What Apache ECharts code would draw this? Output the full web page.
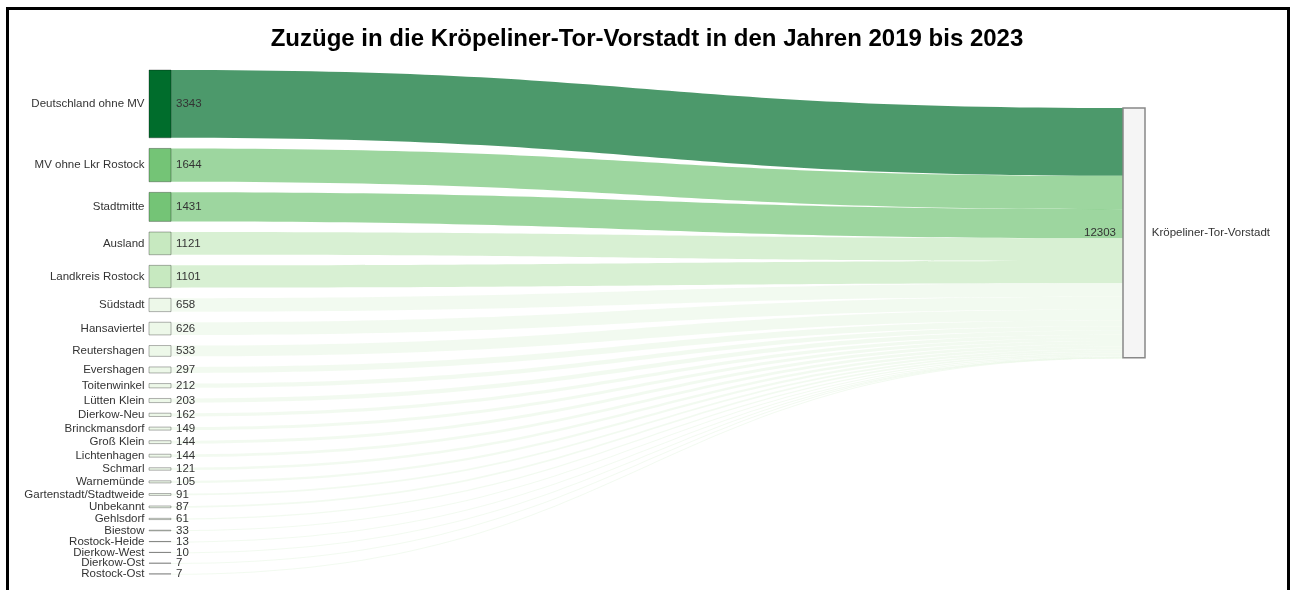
<!DOCTYPE html>
<html>
<head>
<meta charset="utf-8">
<script src="https://cdn.jsdelivr.net/npm/echarts@6/dist/echarts.min.js"></script>
<style>
  html, body { margin: 0; padding: 0; background: #fff; }
  #frame { position: absolute; left: 6px; top: 7px; width: 1284px; height: 600px; border: 3px solid #000; box-sizing: border-box; }
  #chart { position: absolute; left: 0; top: 0; width: 1294px; height: 590px; }
</style>
</head>
<body>
<div id="frame"></div>
<div id="chart"></div>
<script>
const titleText = 'Zuzüge in die Kröpeliner-Tor-Vorstadt in den Jahren 2019 bis 2023';
const targetName = 'Kröpeliner-Tor-Vorstadt';
const sourceNames = [
  'Deutschland ohne MV', 'MV ohne Lkr Rostock', 'Stadtmitte', 'Ausland', 'Landkreis Rostock',
  'Südstadt', 'Hansaviertel', 'Reutershagen', 'Evershagen', 'Toitenwinkel', 'Lütten Klein',
  'Dierkow-Neu', 'Brinckmansdorf', 'Groß Klein', 'Lichtenhagen', 'Schmarl', 'Warnemünde',
  'Gartenstadt/Stadtweide', 'Unbekannt', 'Gehlsdorf', 'Biestow', 'Rostock-Heide',
  'Dierkow-West', 'Dierkow-Ost', 'Rostock-Ost'
];
const sourceValues = [
  3343, 1644, 1431, 1121, 1101,
  658, 626, 533, 297, 212, 203,
  162, 149, 144, 144, 121, 105,
  91, 87, 61, 33, 13,
  10, 7, 7
];

const FONT = 'Arial, "Liberation Sans", sans-serif';

function colorFor(v) {
  if (v >= 3000) return '#006d2c';
  if (v >= 1400) return '#74c476';
  if (v >= 1000) return '#c7e9c0';
  return '#edf8e9';
}

const total = sourceValues.reduce((a, b) => a + b, 0);
const links = sourceNames.map((n, i) => ({ source: n, target: targetName, value: sourceValues[i] }));

// Series 1: visible nodes & links, name labels
const nodesMain = sourceNames.map((n, i) => ({
  name: n,
  value: sourceValues[i],
  itemStyle: { color: colorFor(sourceValues[i]), borderColor: 'rgba(0,0,0,0.3)', borderWidth: 1 },
  label: { position: 'left', distance: 4, formatter: '{b}' }
}));
nodesMain.push({
  name: targetName,
  value: total,
  localY: 0.0755,
  itemStyle: { color: '#f5f5f5', borderColor: '#888', borderWidth: 1.5 },
  label: { position: 'right', distance: 6, formatter: '{b}' }
});

// Series 2: same layout, invisible marks, value labels
const nodesVal = sourceNames.map((n, i) => ({
  name: n,
  value: sourceValues[i],
  label: { position: 'right', distance: 5, formatter: String(sourceValues[i]) }
}));
nodesVal.push({
  name: targetName,
  value: total,
  localY: 0.0755,
  label: { position: 'left', distance: 7, formatter: String(total) }
});

const common = {
  type: 'sankey',
  left: 149,
  right: 149,
  top: 70,
  bottom: 16,
  nodeWidth: 22,
  nodeGap: 10.6,
  layoutIterations: 0,
  draggable: false,
  emphasis: { disabled: true },
  links: links
};

const chart = echarts.init(document.getElementById('chart'));
chart.setOption({
  animation: false,
  title: {
    text: titleText,
    left: 'center',
    top: 22,
    textStyle: { fontSize: 24, fontWeight: 'bold', color: '#000', fontFamily: FONT }
  },
  series: [
    Object.assign({}, common, {
      data: nodesMain,
      lineStyle: { color: 'source', opacity: 0.7, curveness: 0.5 },
      label: { show: true, fontSize: 11.5, color: '#333', fontFamily: FONT }
    }),
    Object.assign({}, common, {
      silent: true,
      data: nodesVal,
      itemStyle: { opacity: 0, borderWidth: 0 },
      lineStyle: { opacity: 0 },
      label: { show: true, fontSize: 11.5, color: '#333', fontFamily: FONT }
    })
  ]
});
</script>
</body>
</html>
